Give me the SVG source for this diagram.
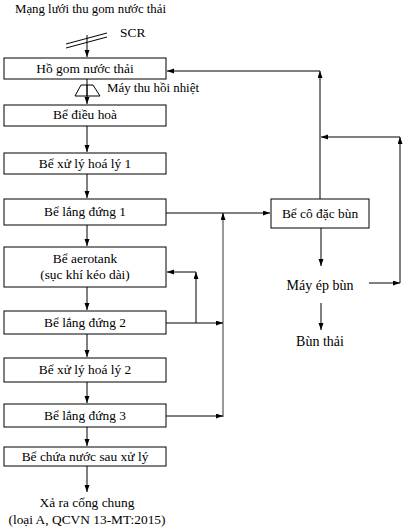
<svg xmlns="http://www.w3.org/2000/svg" width="415" height="532" viewBox="0 0 415 532">
<style>
text{font-family:'Liberation Serif','Times New Roman',serif;font-size:13.4px;fill:#000}
.c{text-anchor:middle}
.big{font-size:14px}
.box{fill:#fff;stroke:#000;stroke-width:1}
.ln{fill:none;stroke:#000;stroke-width:1}
.gr{fill:none;stroke:#808080;stroke-width:1.6}
</style>
<defs>
<marker id="ah" markerUnits="userSpaceOnUse" markerWidth="8" markerHeight="6" refX="7" refY="2.5" orient="auto"><path d="M0,0 L7,2.5 L0,5 z" fill="#000"/></marker>
</defs>
<rect width="415" height="532" fill="#fff"/>
<g id="connectors">
<path class="ln" d="M87,35 V57" marker-end="url(#ah)"/>
<path class="ln" d="M66,44 L107,33 M66,48 L107,37"/>
<path class="ln" d="M87,79 V104" marker-end="url(#ah)"/>
<path class="ln" d="M81,85 H93 L100,96 H75 Z" fill="#fff"/>
<path class="ln" d="M87,85 V96"/>
<path class="ln" d="M87,126 V152" marker-end="url(#ah)"/>
<path class="ln" d="M87,174 V198" marker-end="url(#ah)"/>
<path class="ln" d="M87,225 V246" marker-end="url(#ah)"/>
<path class="ln" d="M87,287 V310" marker-end="url(#ah)"/>
<path class="ln" d="M87,334 V357" marker-end="url(#ah)"/>
<path class="ln" d="M87,382 V403" marker-end="url(#ah)"/>
<path class="ln" d="M87,427 V446" marker-end="url(#ah)"/>
<path class="ln" d="M87,466 V492" marker-end="url(#ah)"/>
<path class="ln" d="M320,199 V71" marker-end="url(#ah)"/>
<path class="ln" d="M320,71 H167" marker-end="url(#ah)"/>
<path class="ln" d="M400,283 V137" marker-end="url(#ah)"/>
<path class="ln" d="M400,137 H321" marker-end="url(#ah)"/>
<path class="ln" d="M369,283 H400" marker-end="url(#ah)"/>
<path class="ln" d="M166,213 H270" marker-end="url(#ah)"/>
<path class="gr" d="M223,417 V213"/>
<path class="ln" d="M223,220 V213" marker-end="url(#ah)"/>
<path class="ln" d="M166,323 H223" marker-end="url(#ah)"/>
<path class="ln" d="M196,323 V272" marker-end="url(#ah)"/>
<path class="ln" d="M196,272 H167" marker-end="url(#ah)"/>
<path class="ln" d="M166,416 H223" marker-end="url(#ah)"/>
<path class="ln" d="M321,228 V266" marker-end="url(#ah)"/>
<path class="ln" d="M321,303 V330" marker-end="url(#ah)"/>
</g>
<g id="n-mangluoi"><text x="15" y="13" textLength="151" lengthAdjust="spacingAndGlyphs">Mạng lưới thu gom nước thải</text></g>
<g id="n-scr"><text x="120" y="37">SCR</text></g>
<g id="n-hogom"><rect class="box" x="4" y="58" width="162" height="21"/><text class="c" x="85" y="73">Hồ gom nước thải</text></g>
<g id="n-maythu"><text x="107" y="92" textLength="92" lengthAdjust="spacingAndGlyphs">Máy thu hồi nhiệt</text></g>
<g id="n-dieuhoa"><rect class="box" x="4" y="105" width="162" height="21"/><text class="c" x="85" y="119">Bể điều hoà</text></g>
<g id="n-hoaly1"><rect class="box" x="4" y="153" width="162" height="21"/><text class="c" x="85" y="168">Bể xử lý hoá lý 1</text></g>
<g id="n-lang1"><rect class="box" x="4" y="199" width="162" height="26"/><text class="c" x="85" y="216">Bể lắng đứng 1</text></g>
<g id="n-aerotank"><rect class="box" x="4" y="247" width="162" height="40"/><text class="c" x="85" y="263">Bể aerotank</text><text class="c" x="85" y="279">(sục khí kéo dài)</text></g>
<g id="n-lang2"><rect class="box" x="4" y="311" width="162" height="23"/><text class="c" x="85" y="327">Bể lắng đứng 2</text></g>
<g id="n-hoaly2"><rect class="box" x="4" y="358" width="162" height="24"/><text class="c" x="85" y="374">Bể xử lý hoá lý 2</text></g>
<g id="n-lang3"><rect class="box" x="4" y="404" width="162" height="23"/><text class="c" x="85" y="420">Bể lắng đứng 3</text></g>
<g id="n-chua"><rect class="box" x="4" y="447" width="162" height="19"/><text class="c" x="85" y="461">Bể chứa nước sau xử lý</text></g>
<g id="n-xara"><text class="c" x="87" y="507">Xả ra cống chung</text><text class="c" x="87" y="524">(loại A, QCVN 13-MT:2015)</text></g>
<g id="n-codac"><rect class="box" x="271" y="199" width="98" height="29"/><text class="c" x="320" y="218">Bể cô đặc bùn</text></g>
<g id="n-mayep"><text class="c big" x="320" y="290">Máy ép bùn</text></g>
<g id="n-bunthai"><text class="c big" x="320" y="346">Bùn thải</text></g>
</svg>
